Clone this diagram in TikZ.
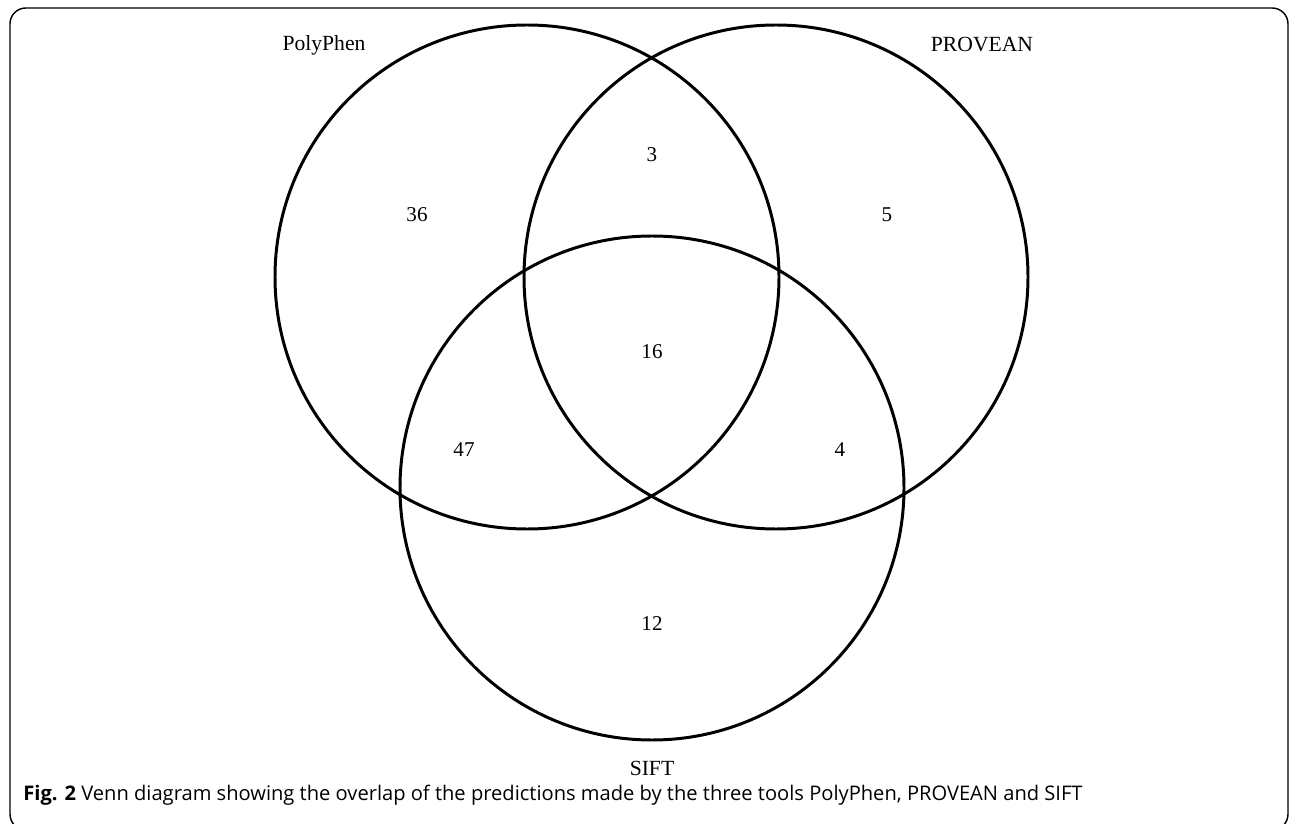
\documentclass[tikz,border=0pt]{standalone}
\usepackage{fontspec}
\setmainfont{Liberation Serif}
\newfontfamily\capfont{Open Sans}
\usepackage{tikz}
\usetikzlibrary{positioning, calc}

\begin{document}
\begin{tikzpicture}[x=0.02cm, y=-0.02cm, line width=1.6pt]
    \tikzset{
        set/.style={draw=black, line width=1.7pt},
        setname/.style={font=\fontsize{12.3}{14}\selectfont, inner sep=0pt},
        count/.style={font=\fontsize{12}{14}\selectfont, inner sep=0pt},
        caption/.style={font=\capfont\fontsize{11.45}{13}\selectfont, anchor=base west, inner sep=0pt}
    }
    \useasboundingbox (0,0) rectangle (1296,824);
    \begin{scope}
        \clip (0,0) rectangle (1296,824);
        \draw[line width=0.8pt, rounded corners=9] (10,8) rectangle (1288,830);
    \end{scope}

    % the three sets
    \coordinate (cP) at (527,277);
    \coordinate (cV) at (776,277);
    \coordinate (cS) at (652,488);
    \draw[set] (cP) circle (252);
    \draw[set] (cV) circle (252);
    \draw[set] (cS) circle (252);

    % set names
    \node (PolyPhen) [setname] at (324,45) {PolyPhen};
    \node (PROVEAN) [setname] at (982,45) {PROVEAN};
    \node (SIFT) [setname] at (652,768) {SIFT};

    % region counts
    \node (nP) [count] at (417,215) {36};
    \node (nPV) [count] at (652,155) {3};
    \node (nV) [count] at (887,215) {5};
    \node (nPVS) [count] at (652,352) {16};
    \node (nPS) [count] at (464,450) {47};
    \node (nVS) [count] at (840,450) {4};
    \node (nS) [count] at (652,624) {12};

    \node (Cap) [caption] at (22,800) {\textbf{Fig. 2} Venn diagram showing the overlap of the predictions made by the three tools PolyPhen, PROVEAN and SIFT};
\end{tikzpicture}
\end{document}
